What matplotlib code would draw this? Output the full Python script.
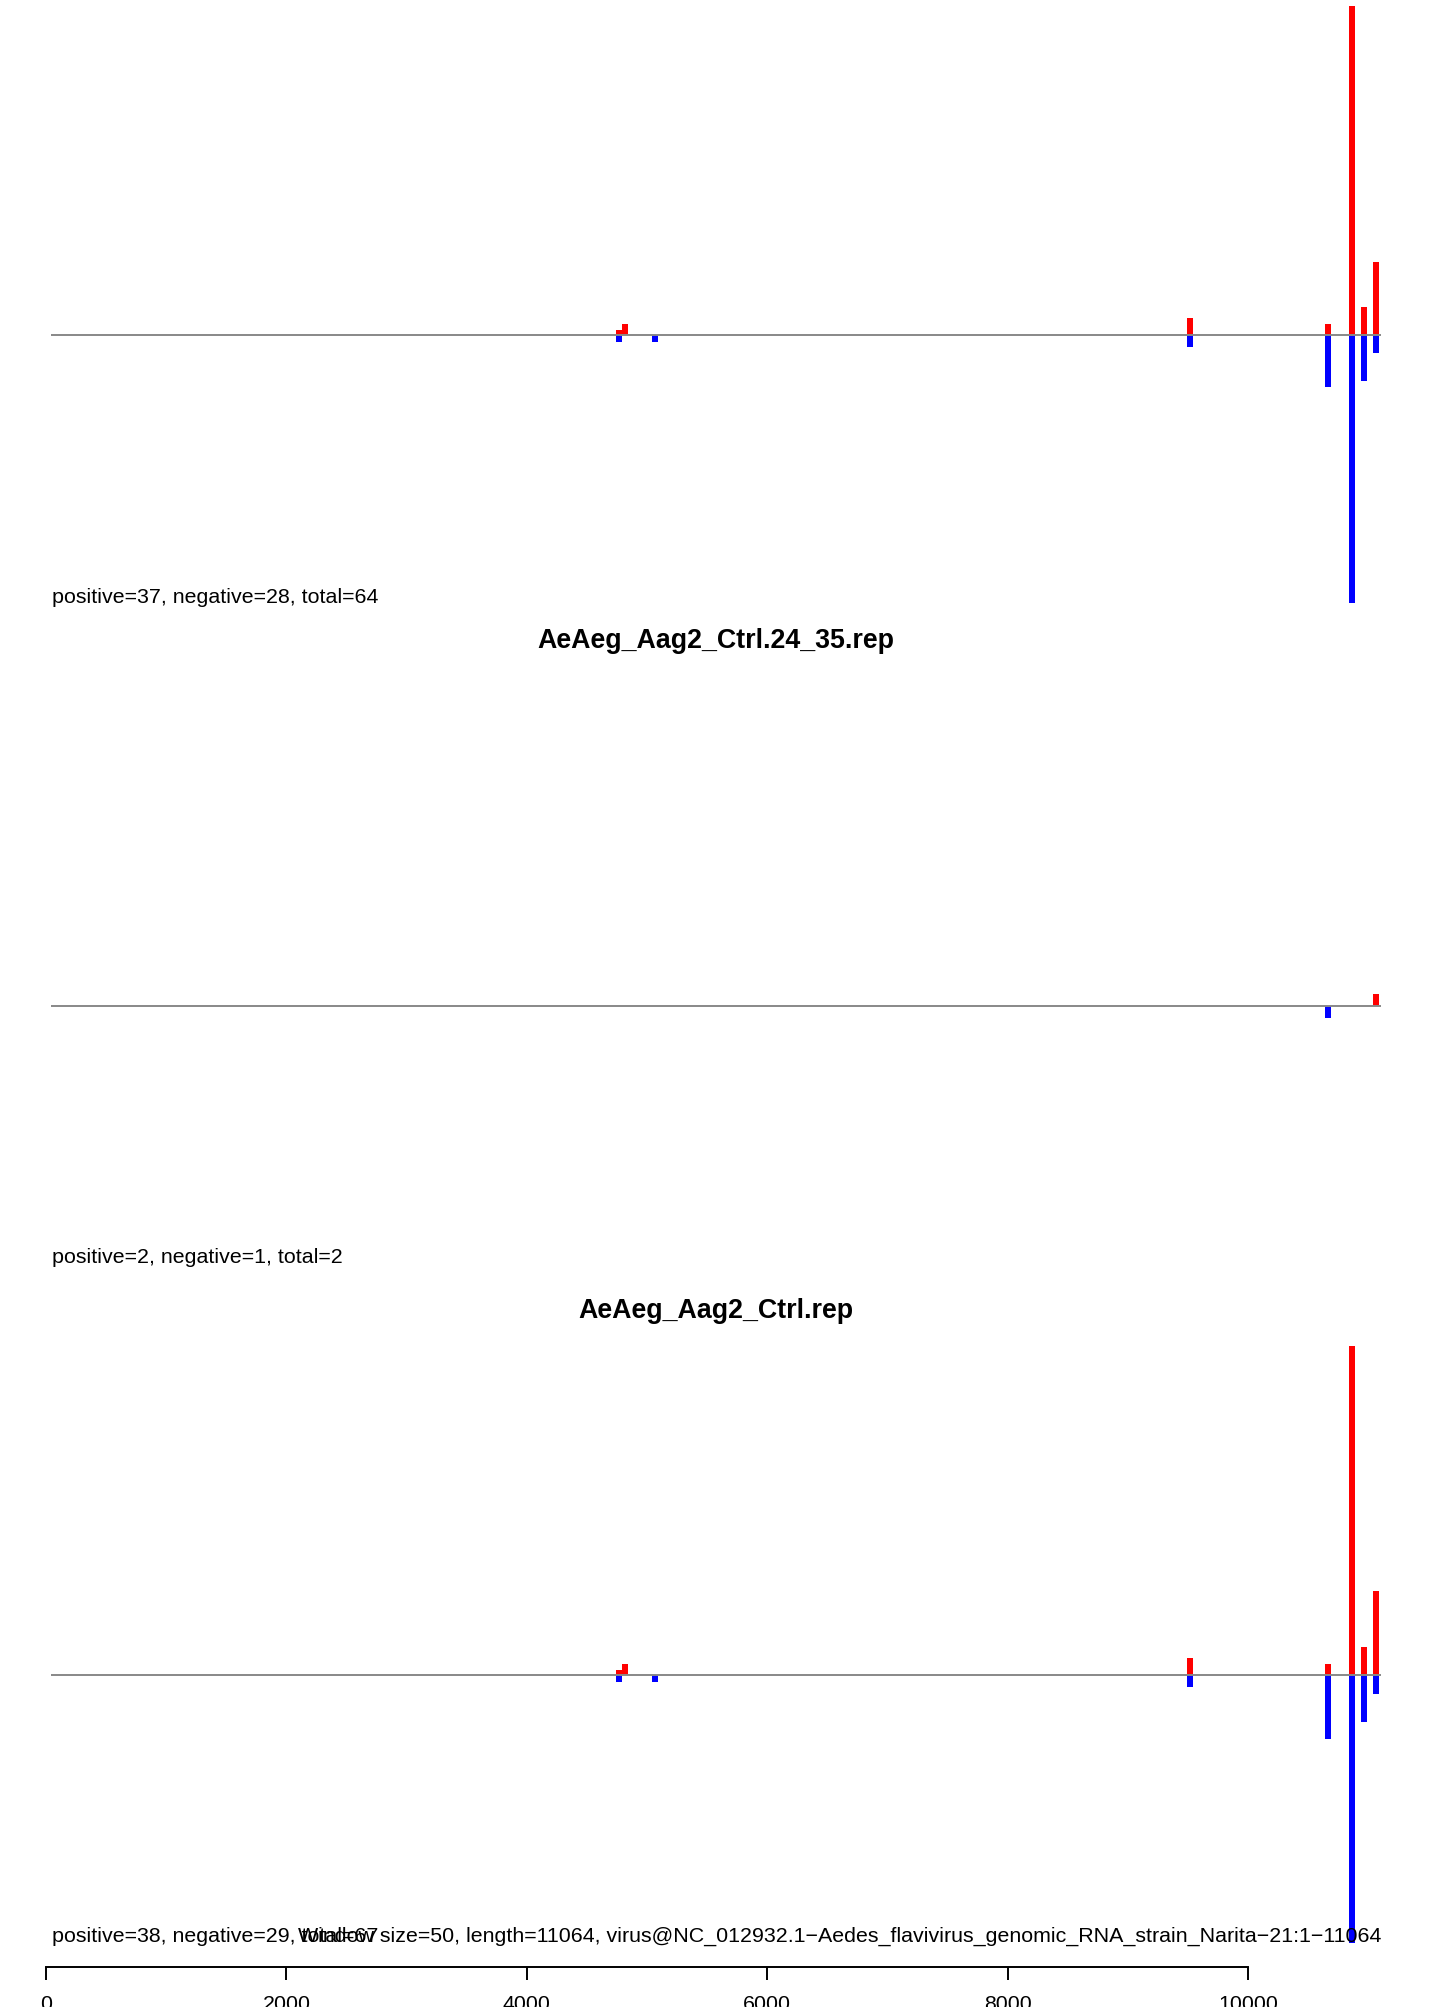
import matplotlib
matplotlib.use("Agg")
import matplotlib.pyplot as plt

plt.rcParams['font.family'] = ['Liberation Sans', 'DejaVu Sans']

# genome / windows
genome_len = 11064
win = 50

# panel 1 (title off the top of the picture)
p1_pos_x = [4700, 4750, 9450, 10600, 10800, 10900, 11000]
p1_pos_y = [0.42, 0.92, 1.42, 0.92, 27.4, 2.33, 6.08]
p1_neg_x = [4700, 5000, 9450, 10600, 10800, 10900, 11000]
p1_neg_y = [0.58, 0.58, 1.0, 4.33, 22.3, 3.83, 1.5]
p1_text = "positive=37, negative=28, total=64"

# panel 2
p2_title = "AeAeg_Aag2_Ctrl.24_35.rep"
p2_pos_x = [11000]
p2_pos_y = [1.0]
p2_neg_x = [10600]
p2_neg_y = [1.0]
p2_text = "positive=2, negative=1, total=2"

# panel 3
p3_title = "AeAeg_Aag2_Ctrl.rep"
p3_pos_x = [4700, 4750, 9450, 10600, 10800, 10900, 11000]
p3_pos_y = [0.42, 0.92, 1.42, 0.92, 27.4, 2.33, 7.0]
p3_neg_x = [4700, 5000, 9450, 10600, 10800, 10900, 11000]
p3_neg_y = [0.58, 0.58, 1.0, 5.33, 22.3, 3.92, 1.58]
p3_text = "positive=38, negative=29, total=67"

footer = ("Window size=50, length=11064, "
          "virus@NC_012932.1\u2212Aedes_flavivirus_genomic_RNA_strain_Narita\u221221:1\u221211064")
axis_ticks = [0, 2000, 4000, 6000, 8000, 10000]

W, H = 1431, 2007
fig = plt.figure(figsize=(W / 100, H / 100), dpi=100)

# pixel helpers
def fx(px):
    return px / W

def fy(py):
    return 1 - py / H

left_px = 51
width_px = 1330
half_px = 335
ppu = 12.0  # pixels per unit

panels = [
    (335, None, 648, p1_pos_x, p1_pos_y, p1_neg_x, p1_neg_y, p1_text, 603),
    (1006, p2_title, 648, p2_pos_x, p2_pos_y, p2_neg_x, p2_neg_y, p2_text, 1263),
    (1675, p3_title, 1318, p3_pos_x, p3_pos_y, p3_neg_x, p3_neg_y, p3_text, 1942),
]

fs = 15.4
for base, title, title_y, px_, py_, nx_, ny_, txt, txt_y in panels:
    ax = fig.add_axes([fx(left_px), fy(base + half_px), fx(width_px), 2 * half_px / H])
    ax.set_xlim(0, genome_len)
    ax.set_ylim(-half_px / ppu, half_px / ppu)
    ax.axis('off')
    ax.bar(px_, py_, width=win, align='edge', color='#ff0000', linewidth=0, zorder=2)
    ax.bar(nx_, [-v for v in ny_], width=win, align='edge', color='#0000ff', linewidth=0, zorder=2)
    ax.plot([0, genome_len], [0, 0], color='#888888', lw=1.4, zorder=3, solid_capstyle='butt')
    if title:
        fig.text(fx(left_px + width_px / 2), fy(title_y), title, ha='center', va='baseline',
                 fontsize=19.3, fontweight='bold')
    fig.text(fx(52), fy(txt_y), txt, ha='left', va='baseline', fontsize=fs)

fig.text(fx(1381), fy(1942), footer, ha='right', va='baseline', fontsize=fs)

# bottom axis
axx = fig.add_axes([fx(46), fy(1967), fx(width_px), 0.0005])
axx.set_xlim(0, genome_len)
axx.set_ylim(0, 1)
axx.set_yticks([])
for s in ['top', 'left', 'right']:
    axx.spines[s].set_visible(False)
axx.spines['bottom'].set_bounds(axis_ticks[0], axis_ticks[-1])
axx.spines['bottom'].set_linewidth(1.4)
axx.set_xticks(axis_ticks)
axx.set_xticklabels([str(t) for t in axis_ticks])
axx.tick_params(axis='x', direction='out', length=9.4, width=1.4, pad=11, labelsize=fs)
axx.patch.set_visible(False)

fig.savefig("out.png", dpi=100)
